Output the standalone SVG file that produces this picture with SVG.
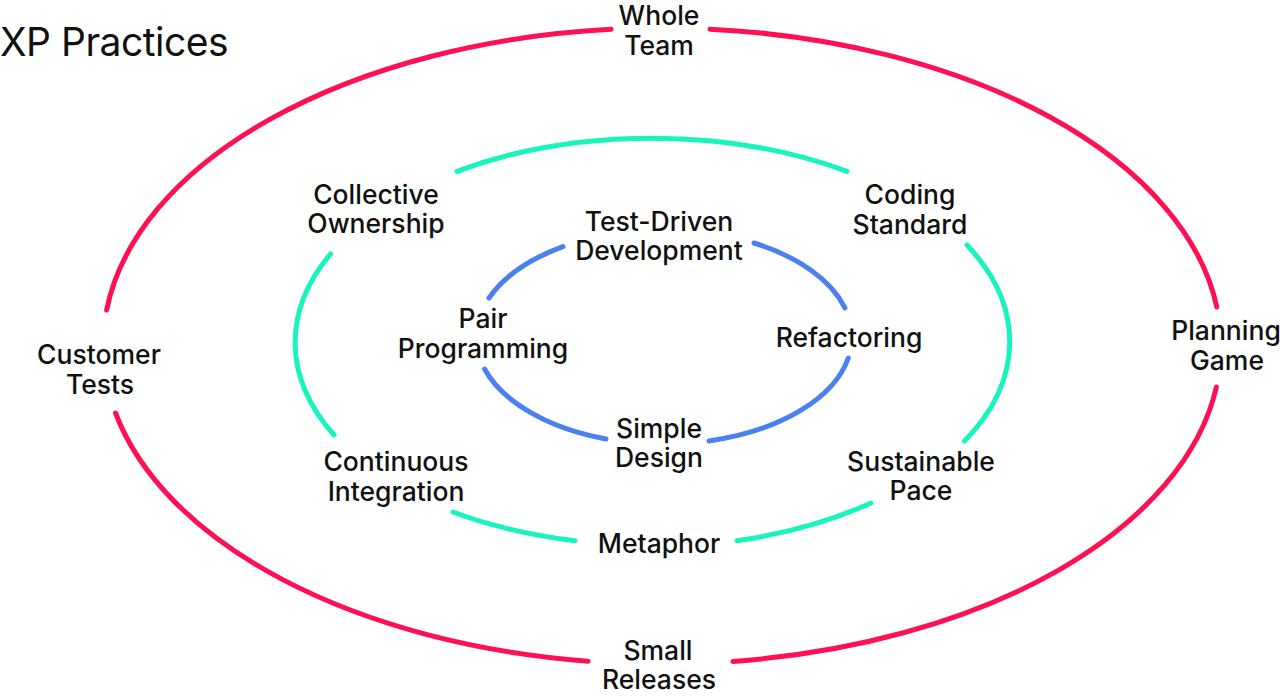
<svg xmlns="http://www.w3.org/2000/svg" width="1280" height="698" viewBox="0 0 1280 698">
  <style>
    .lbl { font-family: Inter, "Noto Sans", "Liberation Sans", sans-serif; font-size: 26.5px; font-weight: 500; fill: #111; text-anchor: middle; }
    .title { font-family: Inter, "Noto Sans", "Liberation Sans", sans-serif; font-size: 39px; font-weight: 400; letter-spacing: -0.5px; fill: #111; }
    .arc { fill: none; stroke-width: 5; stroke-linecap: round; }
    .red { stroke: #FF1053; }
    .teal { stroke: #18F4BE; }
    .blue { stroke: #4A80F0; }
  </style>
  <rect width="1280" height="698" fill="#fff"/>
  <text class="title" x="0" y="56">XP Practices</text>
  <g id="connectors">
    <path class="arc red" d="M710,29.2 A559,318 0 0 1 1216.8,307"/>
    <path class="arc red" d="M1216.4,387 A559,318 0 0 1 733,661.4"/>
    <path class="arc red" d="M588,661.2 A559,318 0 0 1 115.5,413"/>
    <path class="arc red" d="M106.6,310 A559,318 0 0 1 611,29.3"/>
    <path class="arc teal" d="M457,171.3 A357.5,204 0 0 1 847,171.3"/>
    <path class="arc teal" d="M967,245 A357.5,204 0 0 1 964.5,441"/>
    <path class="arc teal" d="M871,503 A357.5,204 0 0 1 737,540.7"/>
    <path class="arc teal" d="M575,540.7 A357.5,204 0 0 1 453,512"/>
    <path class="arc teal" d="M334,435 A357.5,204 0 0 1 330.5,254"/>
    <path class="arc blue" d="M754,243 A188,107 0 0 1 845,308"/>
    <path class="arc blue" d="M848.3,358 A188,107 0 0 1 709,440.9"/>
    <path class="arc blue" d="M606,439 A188,107 0 0 1 484.6,369"/>
    <path class="arc blue" d="M489,298 A188,107 0 0 1 563,246.7"/>
  </g>
  <g id="whole-team"><text class="lbl" x="659" y="25">Whole</text><text class="lbl" x="659" y="55">Team</text></g>
  <g id="customer-tests"><text class="lbl" x="99" y="364">Customer</text><text class="lbl" x="100" y="394">Tests</text></g>
  <g id="planning-game"><text class="lbl" x="1226" y="340">Planning</text><text class="lbl" x="1227" y="370">Game</text></g>
  <g id="small-releases"><text class="lbl" x="658" y="660">Small</text><text class="lbl" x="659" y="689">Releases</text></g>
  <g id="collective-ownership"><text class="lbl" x="376" y="204">Collective</text><text class="lbl" x="376" y="233">Ownership</text></g>
  <g id="coding-standard"><text class="lbl" x="910" y="204">Coding</text><text class="lbl" x="910" y="234">Standard</text></g>
  <g id="continuous-integration"><text class="lbl" x="396" y="471">Continuous</text><text class="lbl" x="396" y="501">Integration</text></g>
  <g id="sustainable-pace"><text class="lbl" x="921" y="471">Sustainable</text><text class="lbl" x="921" y="500">Pace</text></g>
  <g id="metaphor"><text class="lbl" x="659" y="553">Metaphor</text></g>
  <g id="test-driven-development"><text class="lbl" x="659" y="231">Test-Driven</text><text class="lbl" x="659" y="260">Development</text></g>
  <g id="pair-programming"><text class="lbl" x="483" y="328">Pair</text><text class="lbl" x="483" y="358">Programming</text></g>
  <g id="refactoring"><text class="lbl" x="849" y="347">Refactoring</text></g>
  <g id="simple-design"><text class="lbl" x="659" y="438">Simple</text><text class="lbl" x="659" y="467">Design</text></g>
</svg>
